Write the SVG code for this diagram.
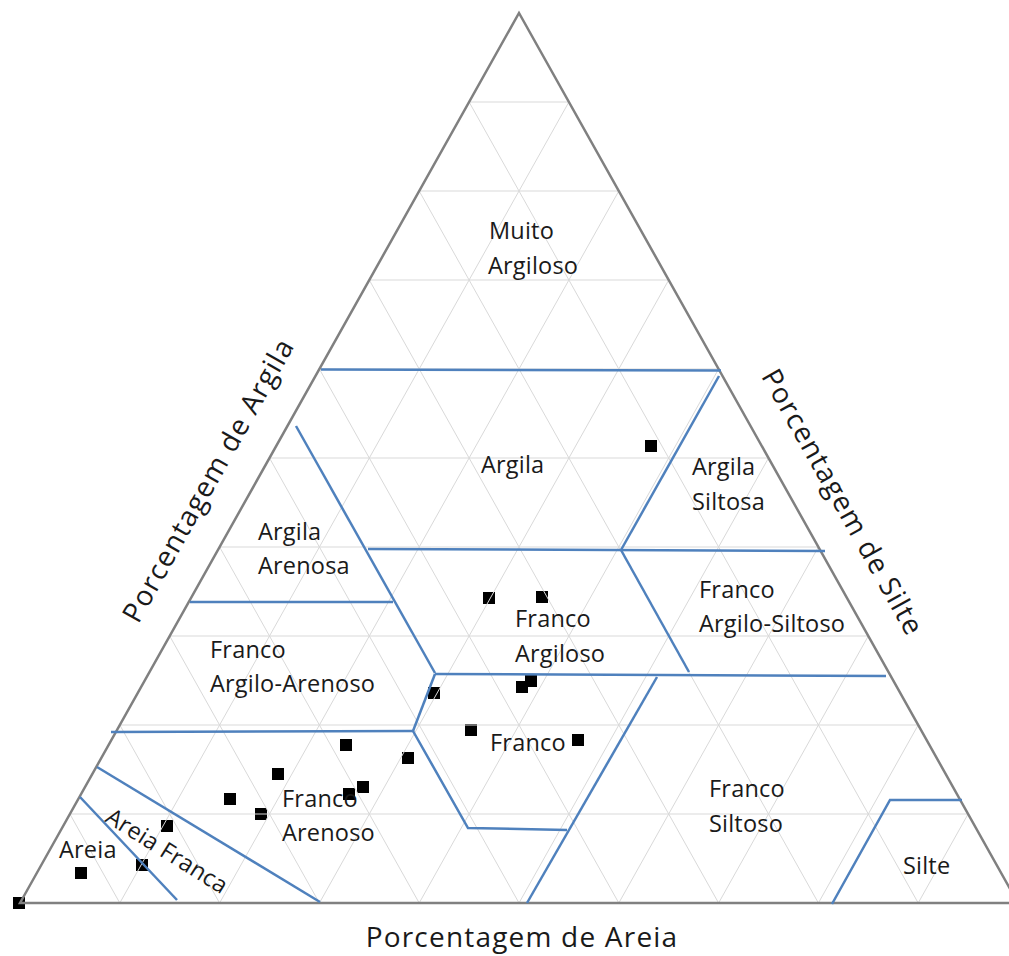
<svg xmlns="http://www.w3.org/2000/svg" width="1009" height="956" viewBox="0 0 1009 956">
<style>
.grid{stroke:#d9d9d9;stroke-width:1;fill:none}
.edge{stroke:#808080;stroke-width:2.5;fill:none;stroke-linejoin:miter}
.bnd{stroke:#4f81bd;stroke-width:2.5;fill:none;stroke-linejoin:miter}
.pt{fill:#000}
.lbl{font-family:"Open Sans","Noto Sans","Liberation Sans",sans-serif;font-size:23.5px;letter-spacing:0.2px;fill:#1a1a1a}
.axis{font-family:"Open Sans","Noto Sans","Liberation Sans",sans-serif;font-size:28px;letter-spacing:1.2px;fill:#1a1a1a}
</style>
<rect width="1009" height="956" fill="#fff"/>
<g id="points">
<rect class="pt" x="645" y="440" width="12" height="12"/>
<rect class="pt" x="483" y="592" width="12" height="12"/>
<rect class="pt" x="536" y="591" width="12" height="12"/>
<rect class="pt" x="525" y="675" width="12" height="12"/>
<rect class="pt" x="516" y="681" width="12" height="12"/>
<rect class="pt" x="428" y="687" width="12" height="12"/>
<rect class="pt" x="465" y="724" width="12" height="12"/>
<rect class="pt" x="572" y="734" width="12" height="12"/>
<rect class="pt" x="340" y="739" width="12" height="12"/>
<rect class="pt" x="402" y="752" width="12" height="12"/>
<rect class="pt" x="272" y="768" width="12" height="12"/>
<rect class="pt" x="357" y="781" width="12" height="12"/>
<rect class="pt" x="343" y="788" width="12" height="12"/>
<rect class="pt" x="224" y="793" width="12" height="12"/>
<rect class="pt" x="255" y="808" width="12" height="12"/>
<rect class="pt" x="161" y="820" width="12" height="12"/>
<rect class="pt" x="136" y="859" width="12" height="12"/>
<rect class="pt" x="75" y="867" width="12" height="12"/>
<rect class="pt" x="13" y="897" width="12" height="12"/>
</g>
<g id="grid">
<path class="grid" d="M69.9,814H968.1M119.8,725H918.2M169.7,636H868.3M219.6,547H818.4M269.5,458H768.5M319.4,369H718.6M369.3,280H668.7M419.2,191H618.8M469.1,102H568.9"/>
<path class="grid" d="M119.8,903L568.9,102M219.6,903L618.8,191M319.4,903L668.7,280M419.2,903L718.6,369M519,903L768.5,458M618.8,903L818.4,547M718.6,903L868.3,636M818.4,903L918.2,725M918.2,903L968.1,814"/>
<path class="grid" d="M119.8,903L69.9,814M219.6,903L119.8,725M319.4,903L169.7,636M419.2,903L219.6,547M519,903L269.5,458M618.8,903L319.4,369M718.6,903L369.3,280M818.4,903L419.2,191M918.2,903L469.1,102"/>
</g>
<g id="triangle">
<path class="edge" d="M20,903L519,13L1018,903Z"/>
</g>
<g id="connectors">
<path class="bnd" d="M321,369.5L721,370.5"/>
<path class="bnd" d="M719,376L621,550"/>
<path class="bnd" d="M368,549L825,551"/>
<path class="bnd" d="M296,426L435,673"/>
<path class="bnd" d="M190,602L393,602"/>
<path class="bnd" d="M621,550L689,672"/>
<path class="bnd" d="M435,674L886,676"/>
<path class="bnd" d="M435,674L413,731"/>
<path class="bnd" d="M413,731L111,732"/>
<path class="bnd" d="M413,731L468,828L567,830"/>
<path class="bnd" d="M657,677L527,903"/>
<path class="bnd" d="M832,904L890,800L962,800"/>
<path class="bnd" d="M97,767L320,902"/>
<path class="bnd" d="M80,797L177,900"/>
</g>
<g id="muito-argiloso"><text class="lbl" x="489" y="239">Muito</text><text class="lbl" x="488" y="274">Argiloso</text></g>
<g id="argila"><text class="lbl" x="481" y="473">Argila</text></g>
<g id="argila-siltosa"><text class="lbl" x="692" y="475">Argila</text><text class="lbl" x="692" y="510">Siltosa</text></g>
<g id="argila-arenosa"><text class="lbl" x="258" y="540">Argila</text><text class="lbl" x="258" y="574">Arenosa</text></g>
<g id="franco-argilo-siltoso"><text class="lbl" x="699" y="598">Franco</text><text class="lbl" x="699" y="632">Argilo-Siltoso</text></g>
<g id="franco-argiloso"><text class="lbl" x="515" y="627">Franco</text><text class="lbl" x="515" y="662">Argiloso</text></g>
<g id="franco-argilo-arenoso"><text class="lbl" x="210" y="658">Franco</text><text class="lbl" x="210" y="692">Argilo-Arenoso</text></g>
<g id="franco"><text class="lbl" x="490" y="751">Franco</text></g>
<g id="franco-arenoso"><text class="lbl" x="282" y="807">Franco</text><text class="lbl" x="282" y="841">Arenoso</text></g>
<g id="franco-siltoso"><text class="lbl" x="709" y="797">Franco</text><text class="lbl" x="709" y="832">Siltoso</text></g>
<g id="silte"><text class="lbl" x="903" y="874">Silte</text></g>
<g id="areia"><text class="lbl" x="59" y="858">Areia</text></g>
<g id="areia-franca"><text class="lbl" transform="translate(167,851) rotate(32)" x="0" y="8" text-anchor="middle">Areia Franca</text></g>
<g id="axis-argila"><text class="axis" transform="translate(208,480) rotate(-60.7)" x="0" y="10" text-anchor="middle">Porcentagem de Argila</text></g>
<g id="axis-silte"><text class="axis" transform="translate(843,502) rotate(60.7)" x="0" y="10" text-anchor="middle">Porcentagem de Silte</text></g>
<g id="axis-areia"><text class="axis" x="522" y="947" text-anchor="middle">Porcentagem de Areia</text></g>
</svg>
